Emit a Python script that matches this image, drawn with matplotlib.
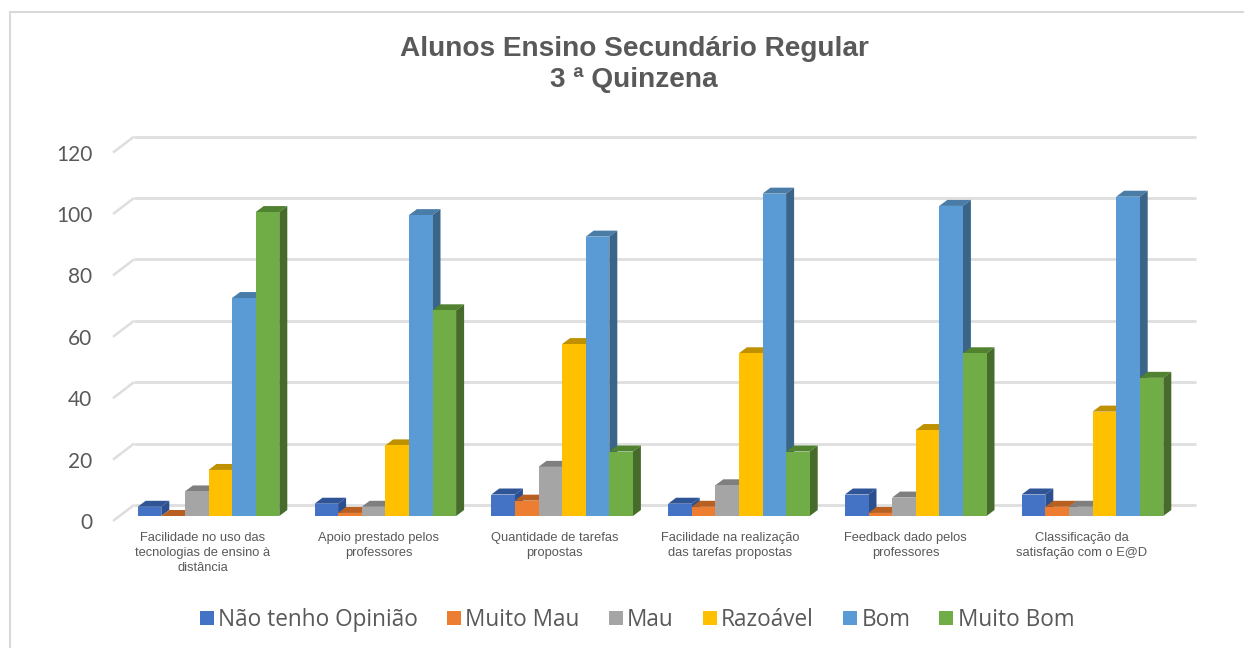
import matplotlib
matplotlib.use("Agg")
import matplotlib.pyplot as plt
from matplotlib.lines import Line2D
from matplotlib.patches import Patch, Polygon
from matplotlib.transforms import ScaledTranslation

categories = [
    "Facilidade no uso das\ntecnologias de ensino à\ndistância",
    "Apoio prestado pelos\nprofessores",
    "Quantidade de tarefas\npropostas",
    "Facilidade na realização\ndas tarefas propostas",
    "Feedback dado pelos\nprofessores",
    "Classificação da\nsatisfação com o E@D",
]
series_names = ["Não tenho Opinião", "Muito Mau", "Mau", "Razoável", "Bom", "Muito Bom"]
nao_opiniao = [3, 4, 7, 4, 7, 7]
muito_mau = [0, 1, 5, 3, 1, 3]
mau = [8, 3, 16, 10, 6, 3]
razoavel = [15, 23, 56, 53, 28, 34]
bom = [71, 98, 91, 105, 101, 104]
muito_bom = [99, 67, 21, 21, 53, 45]
yticks = [0, 20, 40, 60, 80, 100, 120]

series = [nao_opiniao, muito_mau, mau, razoavel, bom, muito_bom]
front = ["#4472C4", "#ED7D31", "#A5A5A5", "#FFC000", "#5B9BD5", "#70AD47"]
top = ["#2F5597", "#B85F22", "#7F7F7F", "#BF9000", "#4A7CA8", "#50822F"]
side = ["#2C4F8F", "#A85519", "#737373", "#A87F00", "#3A6488", "#476B2B"]

W, H = 1244, 648
fig = plt.figure(figsize=(W / 100, H / 100), dpi=100)

# axes covers the front plane of the bars, in pixels of the reference
left, right, y0, y120 = 113, 1196, 516, 147.6
ax = fig.add_axes([left / W, 1 - y0 / H, (right - left) / W, (y0 - y120) / H])
ax.set_ylim(0, 120)
group_step = 176.8
ax.set_xlim((left - 208.5) / group_step, (right - 208.5) / group_step)
for s in ax.spines.values():
    s.set_visible(False)

px_y = 120 / (y0 - y120)
px_x = 1 / group_step
bar_w = 23.6 * px_x
dx, dy = 8 * px_x, 6 * px_y
# floor offsets of the gridlines relative to the bar base
back_x, back_y = (134 - left) * px_x, 11 * px_y
front_y = -5 * px_y
x_left = ax.get_xlim()[0]
x_right = ax.get_xlim()[1]

grid = "#DEDEDE"
for v in yticks:
    ax.plot([x_left, x_left + back_x], [v + front_y, v + back_y], color=grid, lw=1.8,
            clip_on=False, zorder=1, solid_capstyle="butt")
    ax.plot([x_left + back_x, x_right], [v + back_y, v + back_y], color=grid, lw=2,
            clip_on=False, zorder=1, solid_capstyle="butt")

z = 2
for g in range(len(categories)):
    for k, vals in enumerate(series):
        v = vals[g]
        x = g + (k - 3) * bar_w
        ax.add_patch(Polygon([(x, v), (x + dx, v + dy), (x + bar_w + dx, v + dy), (x + bar_w, v)],
                             facecolor=top[k], edgecolor="none", clip_on=False, zorder=z))
        ax.add_patch(Polygon([(x + bar_w, 0), (x + bar_w + dx, dy), (x + bar_w + dx, v + dy), (x + bar_w, v)],
                             facecolor=side[k], edgecolor="none", clip_on=False, zorder=z))
        ax.bar(x, v, width=bar_w, align="edge", color=front[k], clip_on=False, zorder=z + 0.5)
        z += 1

# labels sit a little left of the groups and drift further left
label_x = [(203 + 175.7 * i - 208.5) / group_step for i in range(len(categories))]
ax.set_xticks(label_x)
ax.set_xticklabels(categories, fontsize=9.3, family="Liberation Sans", color="#595959", linespacing=1.36)
ax.set_yticks(yticks)
ax.set_yticklabels([str(v) for v in yticks], fontsize=15, family="Lato", color="#595959")
ax.tick_params(axis="x", length=0, pad=11.5)
ax.tick_params(axis="y", length=0, pad=15)
shift = ScaledTranslation(0, -5 / 100, fig.dpi_scale_trans)
for lab in ax.get_yticklabels():
    lab.set_transform(lab.get_transform() + shift)

fig.text(634 / W, 1 - 64.5 / H, "Alunos Ensino Secundário Regular\n3 ª Quinzena", ha="center", va="center",
         fontsize=20.2, fontweight="bold", family="Liberation Sans", color="#595959", linespacing=1.27)

handles = [Patch(facecolor=c, edgecolor="none") for c in front]
fig.legend(handles, series_names, ncol=6, loc="center", bbox_to_anchor=(637 / W, 1 - 620 / H),
           frameon=False, labelcolor="#595959", handlelength=0.62, handleheight=0.62,
           handletextpad=0.2, columnspacing=1.27, prop={"family": "Open Sans", "size": 16.3})

# chart border
border = "#D9D9D9"
fig.add_artist(Line2D([10 / W, 10 / W], [0, 1 - 12 / H], color=border, lw=1.5))
fig.add_artist(Line2D([10 / W, 1], [1 - 12 / H, 1 - 12 / H], color=border, lw=1.5))

fig.savefig("out.png", dpi=100)
